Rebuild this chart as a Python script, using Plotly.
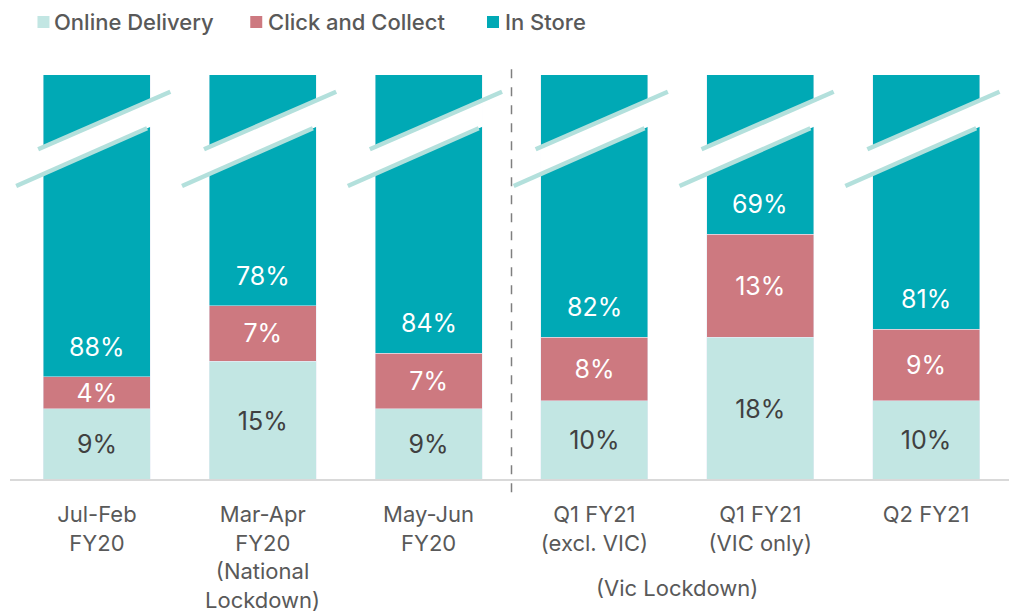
import plotly.graph_objects as go

# ---- data ----
categories = ["Jul-Feb<br>FY20", "Mar-Apr<br>FY20", "May-Jun<br>FY20",
              "Q1 FY21<br>(excl. VIC)", "Q1 FY21<br>(VIC only)", "Q2 FY21"]
online = [9, 15, 9, 10, 18, 10]
click = [4, 7, 7, 8, 13, 9]
instore = [88, 78, 84, 82, 69, 81]
series_names = ["Online Delivery", "Click and Collect", "In Store"]
group_labels = ["(National<br>Lockdown)", "(Vic Lockdown)"]
group_centers = [1, 3.5]       # category positions the group labels sit under
group_offsets = [105, 108]     # px below the baseline

# ---- style ----
C_ONLINE = "#c2e6e3"
C_CLICK = "#cd7980"
C_STORE = "#00a9b5"
C_BREAK = "#b3e0dc"
FONT = "Inter"
YMAX = 51.1
BAR_W = 0.645
LBL = 25
W, H = 1012, 608          # page body has an 8px margin
ML, MR, MT, MB = 5.5, 10.5, 67, 136
PW, PH = W - ML - MR, H - MT - MB
xs = list(range(len(categories)))

fig = go.Figure()
fig.add_bar(x=xs, y=online, name=series_names[0], marker_color=C_ONLINE, width=BAR_W,
            text=[f"{v}%" for v in online], textposition="inside", insidetextanchor="middle",
            constraintext="none", textfont=dict(color="#404040", size=LBL, family=FONT),
            showlegend=False)
fig.add_bar(x=xs, y=click, name=series_names[1], marker_color=C_CLICK, width=BAR_W,
            text=[f"{v}%" for v in click], textposition="inside", insidetextanchor="middle",
            constraintext="none", textfont=dict(color="white", size=LBL, family=FONT),
            showlegend=False)
fig.add_bar(x=xs, y=instore, name=series_names[2], marker_color=C_STORE, width=BAR_W,
            hoverinfo="x+y", showlegend=False)

# In Store labels placed just above the segment base (bar is truncated by axis break)
for i in xs:
    base = online[i] + click[i]
    fig.add_annotation(x=i, y=base + 3.8, text=f"{instore[i]}%", showarrow=False,
                       font=dict(color="white", size=LBL, family=FONT), xref="x", yref="y")

# axis break marks (relative to each bar)
PXX = PW / len(categories)   # px per category unit
PXY = PH / YMAX              # px per y unit
def yv(dpy):  # dpy: px above baseline
    return dpy / PXY

shapes = []
for i in xs:
    ux0, uy0, ux1, uy1 = i - 58.8 / PXX, yv(330.7), i + 73.5 / PXX, yv(388.3)
    lx0, ly0, lx1, ly1 = i - 80.8 / PXX, yv(294.0), i + 50.2 / PXX, yv(351.7)
    su = (uy1 - uy0) / (ux1 - ux0)
    sl = (ly1 - ly0) / (lx1 - lx0)
    hl = BAR_W / 2 + 0.005
    a, b = i - hl, i + hl
    pts = [(a, ly0 + sl * (a - lx0)), (b, ly0 + sl * (b - lx0)),
           (b, uy0 + su * (b - ux0)), (a, uy0 + su * (a - ux0))]
    path = "M " + " L ".join(f"{x:.4f},{y:.4f}" for x, y in pts) + " Z"
    shapes.append(dict(type="path", path=path, xref="x", yref="y", fillcolor="white",
                       line=dict(width=0), layer="above"))
    shapes.append(dict(type="line", x0=ux0, y0=uy0, x1=ux1, y1=uy1, xref="x", yref="y",
                       line=dict(color=C_BREAK, width=4.5), layer="above"))
    shapes.append(dict(type="line", x0=lx0, y0=ly0, x1=lx1, y1=ly1, xref="x", yref="y",
                       line=dict(color=C_BREAK, width=4.5), layer="above"))

shapes.append(dict(type="line", xref="paper", yref="paper", x0=-0.004, x1=1.0, y0=0, y1=0,
                   line=dict(color="#d9d9d9", width=2), layer="above"))
sep = (2.5 + 0.5) / len(categories)
shapes.append(dict(type="line", xref="paper", yref="paper", x0=sep, x1=sep, y0=-0.03, y1=1.03,
                   line=dict(color="#7f7f7f", width=1.5, dash="dash"), layer="above"))

for lab, gx, off in zip(group_labels, group_centers, group_offsets):
    fig.add_annotation(x=gx, xref="x", y=-off / PH, yref="paper", text=lab, showarrow=False,
                       font=dict(color="#595959", size=22, family=FONT), yanchor="middle")

# legend (squares + labels) in page pixel positions
leg_sq_x = [37, 250, 487]
leg_txt_x = [52, 266, 503]
leg_colors = [C_ONLINE, C_CLICK, C_STORE]
leg_y = 22
for sx, tx, col, nm in zip(leg_sq_x, leg_txt_x, leg_colors, series_names):
    shapes.append(dict(type="rect", xref="paper", yref="paper",
                       x0=(sx - 8 - ML) / PW, x1=(sx + 12 - 8 - ML) / PW,
                       y0=(H - MB - (leg_y - 6 - 8)) / PH, y1=(H - MB - (leg_y + 6 - 8)) / PH,
                       fillcolor=col, line=dict(width=0)))
    fig.add_annotation(x=(tx - 8 - ML) / PW, xref="paper", xanchor="left",
                       y=(H - MB - (leg_y - 8)) / PH, yref="paper", yanchor="middle",
                       text=nm, showarrow=False,
                       font=dict(color="#595959", size=22, family=FONT, weight=500))

fig.update_layout(
    width=W, height=H,
    margin=dict(l=ML, r=MR, t=MT, b=MB, autoexpand=False),
    barmode="stack",
    plot_bgcolor="white", paper_bgcolor="white",
    shapes=shapes,
    showlegend=False,
    font=dict(family=FONT, color="#595959"),
    xaxis=dict(range=[-0.5, len(categories) - 0.5], tickvals=xs, ticktext=categories,
               showgrid=False, zeroline=False, showline=False, ticks="", automargin=False,
               tickfont=dict(size=22, color="#595959", family=FONT), ticklabelstandoff=19),
    yaxis=dict(range=[0, YMAX], visible=False, showgrid=False, zeroline=False, automargin=False),
)

fig.write_html("out.html")
